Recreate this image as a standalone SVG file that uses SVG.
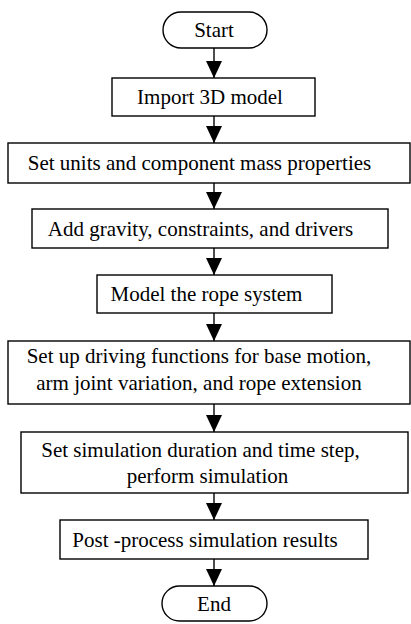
<svg xmlns="http://www.w3.org/2000/svg" width="411" height="624" viewBox="0 0 411 624">
  <style>
    .box { fill: #ffffff; stroke: #000000; stroke-width: 1.4; }
    .lbl { font-family: "Liberation Serif", "Times New Roman", serif; font-size: 21px; fill: #000000; text-anchor: middle; }
    .link { stroke: #000000; stroke-width: 1.4; fill: none; marker-end: url(#head); }
  </style>
  <defs>
    <marker id="head" viewBox="0 0 17 16" refX="17" refY="8" markerWidth="17" markerHeight="16" markerUnits="userSpaceOnUse" orient="auto">
      <path d="M0,0 L17,8 L0,16 z" fill="#000000"/>
    </marker>
  </defs>
  <rect width="411" height="624" fill="#ffffff"/>

  <g id="connectors">
    <line class="link" x1="214" y1="48" x2="214" y2="78"/>
    <line class="link" x1="214" y1="116" x2="214" y2="143"/>
    <line class="link" x1="214" y1="183" x2="214" y2="209"/>
    <line class="link" x1="214" y1="248" x2="214" y2="275"/>
    <line class="link" x1="214" y1="313" x2="214" y2="341"/>
    <line class="link" x1="214" y1="404" x2="214" y2="432"/>
    <line class="link" x1="214" y1="493" x2="214" y2="520"/>
    <line class="link" x1="214" y1="559" x2="214" y2="586"/>
  </g>

  <g id="start">
    <rect class="box" x="163" y="12" width="104" height="36" rx="18" ry="18"/>
    <text class="lbl" x="214" y="37">Start</text>
  </g>

  <g id="import">
    <rect class="box" x="112" y="78" width="203" height="38"/>
    <text class="lbl" x="210" y="104">Import 3D model</text>
  </g>

  <g id="units">
    <rect class="box" x="8" y="143" width="402" height="40"/>
    <text class="lbl" x="199.5" y="170">Set units and component mass properties</text>
  </g>

  <g id="gravity">
    <rect class="box" x="32" y="209" width="356" height="39"/>
    <text class="lbl" x="200.5" y="236">Add gravity, constraints, and drivers</text>
  </g>

  <g id="rope">
    <rect class="box" x="97" y="275" width="235" height="38"/>
    <text class="lbl" x="206.5" y="301">Model the rope system</text>
  </g>

  <g id="driving">
    <rect class="box" x="8" y="341" width="402" height="63"/>
    <text class="lbl" x="199" y="363">Set up driving functions for base motion,</text>
    <text class="lbl" x="199" y="390">arm joint variation, and rope extension</text>
  </g>

  <g id="simulate">
    <rect class="box" x="21" y="432" width="387" height="61"/>
    <text class="lbl" x="200.5" y="457">Set simulation duration and time step,</text>
    <text class="lbl" x="207.5" y="483">perform simulation</text>
  </g>

  <g id="postprocess">
    <rect class="box" x="60" y="520" width="308" height="39"/>
    <text class="lbl" x="205" y="547">Post -process simulation results</text>
  </g>

  <g id="end">
    <rect class="box" x="162" y="586" width="105" height="35" rx="17.5" ry="17.5"/>
    <text class="lbl" x="214" y="611">End</text>
  </g>
</svg>
